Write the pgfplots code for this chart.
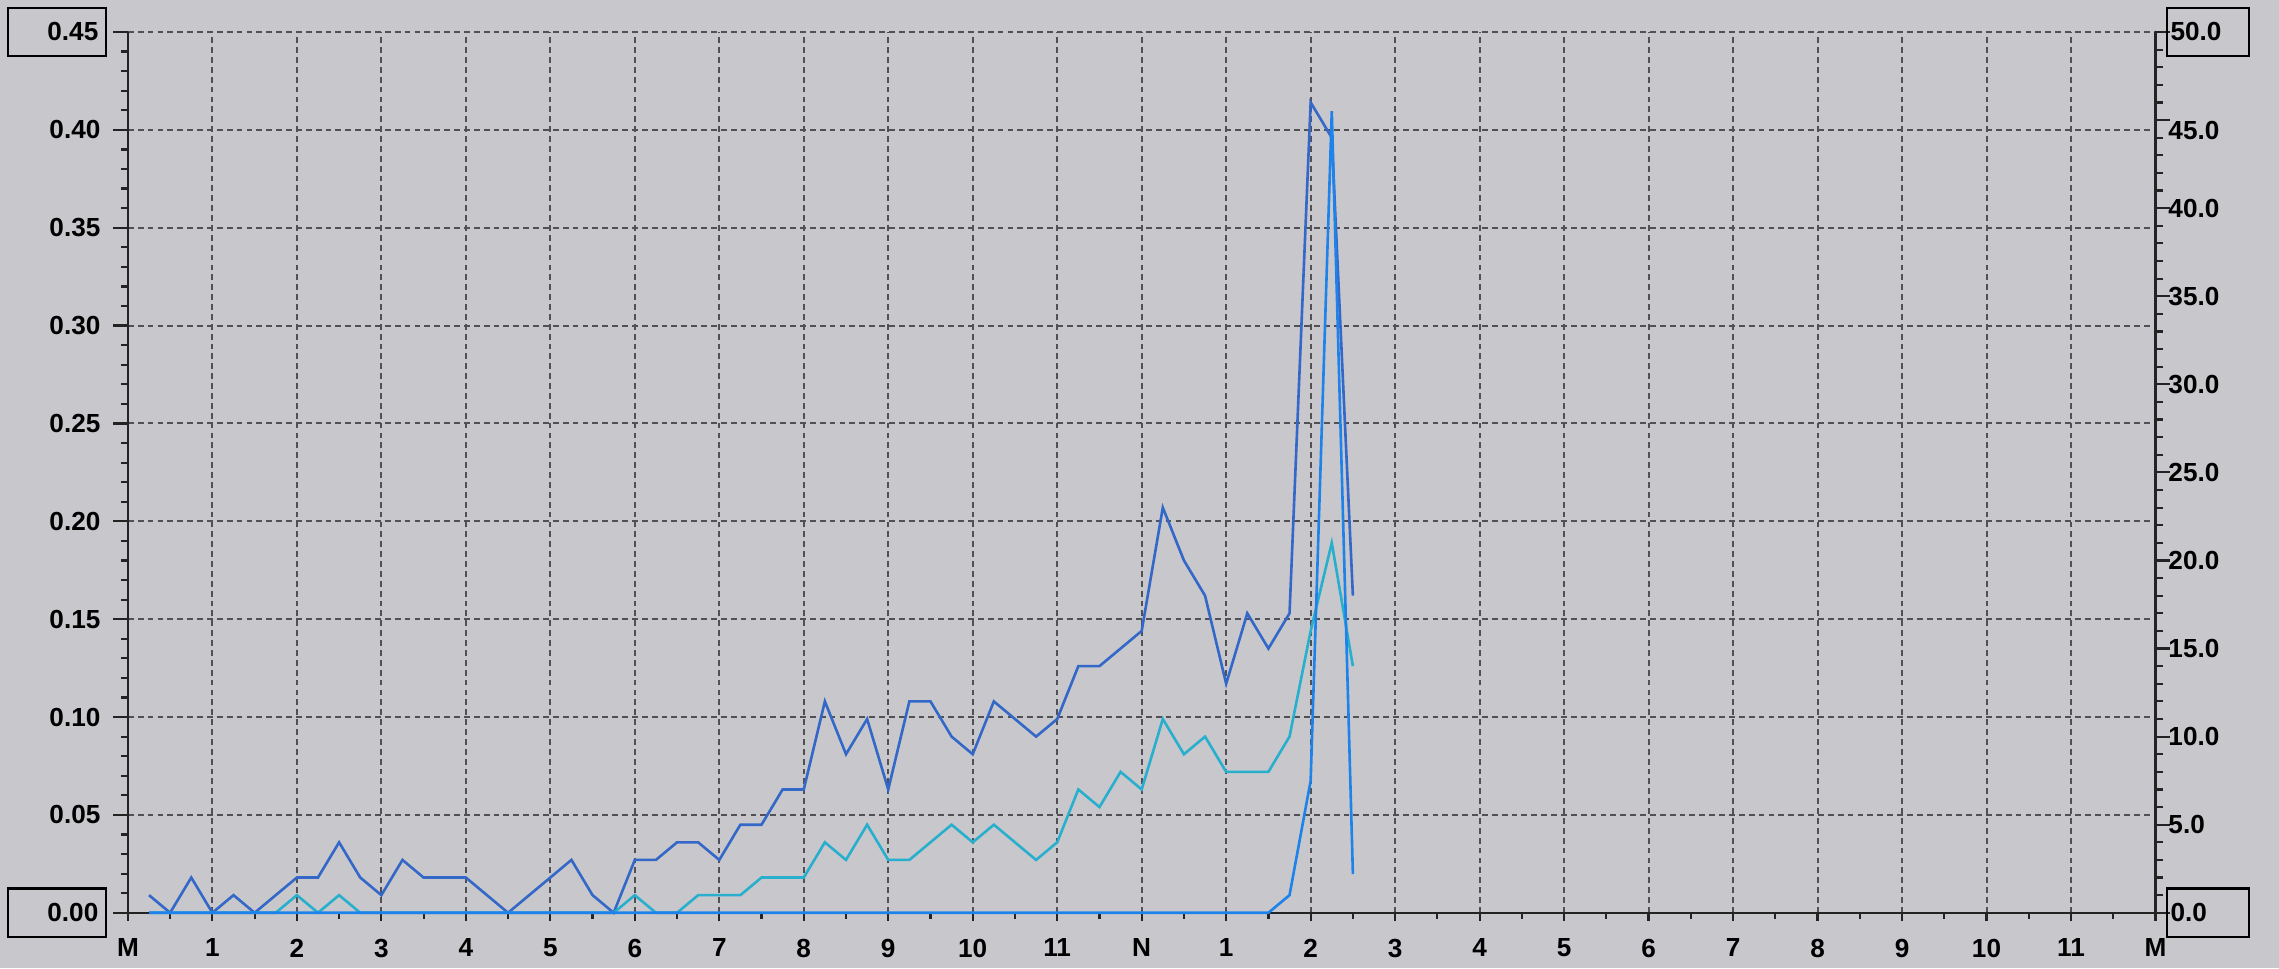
\documentclass[border=0pt]{standalone}
\usepackage{fontspec}
\setmainfont{Liberation Sans}
\usepackage{pgfplots}
\usepackage{pgfplotstable}
\pgfplotsset{compat=1.18}

\definecolor{bg}{RGB}{200,200,204}
\definecolor{gridc}{RGB}{80,80,85}
\definecolor{axc}{RGB}{35,35,35}
\definecolor{dblue}{RGB}{52,104,200}
\definecolor{cyanl}{RGB}{40,175,205}
\definecolor{mblue}{RGB}{30,130,235}

\newcommand{\lbox}[1]{{\setlength{\fboxsep}{0pt}\setlength{\fboxrule}{0.7pt}\fbox{\rule[-5pt]{0pt}{16pt}\makebox[33pt][r]{#1\kern2.3pt}}}\kern-2.3pt}
\newcommand{\rbox}[1]{\kern-0.7pt{\setlength{\fboxsep}{0pt}\setlength{\fboxrule}{0.7pt}\fbox{\rule[-5pt]{0pt}{16pt}\makebox[27.5pt][l]{\kern0.7pt#1}}}}

\pgfplotstableread{
h d c m
0.25 0.009 0 0
0.5 0 0 0
0.75 0.018 0 0
1 0 0 0
1.25 0.009 0 0
1.5 0 0 0
1.75 0.009 0 0
2 0.018 0.009 0
2.25 0.018 0 0
2.5 0.036 0.009 0
2.75 0.018 0 0
3 0.009 0 0
3.25 0.027 0 0
3.5 0.018 0 0
3.75 0.018 0 0
4 0.018 0 0
4.25 0.009 0 0
4.5 0 0 0
4.75 0.009 0 0
5 0.018 0 0
5.25 0.027 0 0
5.5 0.009 0 0
5.75 0 0 0
6 0.027 0.009 0
6.25 0.027 0 0
6.5 0.036 0 0
6.75 0.036 0.009 0
7 0.027 0.009 0
7.25 0.045 0.009 0
7.5 0.045 0.018 0
7.75 0.063 0.018 0
8 0.063 0.018 0
8.25 0.108 0.036 0
8.5 0.081 0.027 0
8.75 0.099 0.045 0
9 0.063 0.027 0
9.25 0.108 0.027 0
9.5 0.108 0.036 0
9.75 0.090 0.045 0
10 0.081 0.036 0
10.25 0.108 0.045 0
10.5 0.099 0.036 0
10.75 0.090 0.027 0
11 0.099 0.036 0
11.25 0.126 0.063 0
11.5 0.126 0.054 0
11.75 0.135 0.072 0
12 0.144 0.063 0
12.25 0.207 0.099 0
12.5 0.180 0.081 0
12.75 0.162 0.090 0
13 0.117 0.072 0
13.25 0.153 0.072 0
13.5 0.135 0.072 0
13.75 0.153 0.090 1.0
14 0.414 0.144 7.5
14.25 0.396 0.189 45.5
14.5 0.162 0.126 2.2
}\data

\begin{document}
\begin{tikzpicture}
\fill[bg] (0,0) rectangle (784pt,333pt);
\useasboundingbox (0,0) rectangle (784pt,333pt);
\begin{axis}[
  at={(44pt,19pt)}, anchor=south west,
  scale only axis, width=697.5pt, height=303pt,
  xmin=0, xmax=24, ymin=0, ymax=0.45,
  clip=false,
  axis y line*=left, axis x line*=bottom,
  axis line style={axc, line width=0.75pt, -},
  xtick={0,...,24},
  xticklabels={M,1,2,3,4,5,6,7,8,9,10,11,N,1,2,3,4,5,6,7,8,9,10,11,M},
  minor x tick num=1,
  ytick={0,0.05,0.1,0.15,0.2,0.25,0.3,0.35,0.4,0.45},
  yticklabels={\lbox{0.00},0.05,0.10,0.15,0.20,0.25,0.30,0.35,0.40,\lbox{0.45}},
  minor y tick num=4,
  tick align=outside,
  grid=major,
  major grid style={gridc, line width=0.7pt, dash pattern=on 2pt off 1.4pt},
  xtick style={axc, line width=0.75pt, /pgfplots/major tick length=2.75pt, /pgfplots/minor tick length=2pt},
  ytick style={axc, line width=0.75pt, /pgfplots/major tick length=5pt, /pgfplots/minor tick length=2.3pt},
  tick label style={font=\bfseries\fontsize{9}{9}\selectfont, text=black},
  yticklabel style={anchor=east, inner sep=0pt, xshift=-5pt},
  xticklabel style={anchor=north, inner sep=0pt, yshift=-4.5pt},
]
\addplot[dblue, line width=0.9pt] table[x=h, y=d] {\data};
\addplot[cyanl, line width=0.9pt] table[x=h, y=c] {\data};
\end{axis}
\begin{axis}[
  at={(44pt,19pt)}, anchor=south west,
  scale only axis, width=697.5pt, height=303pt,
  xmin=0, xmax=24, ymin=0, ymax=50,
  clip=false,
  axis y line*=right, axis x line=none,
  axis line style={axc, line width=0.75pt, -},
  ytick={0,5,10,15,20,25,30,35,40,45,50},
  yticklabels={\rbox{0.0},5.0,10.0,15.0,20.0,25.0,30.0,35.0,40.0,\raisebox{-3.5pt}[6.5pt][0pt]{45.0},\rbox{50.0}},
  minor y tick num=4,
  tick align=outside,
  ytick style={axc, line width=0.75pt, /pgfplots/major tick length=5pt, /pgfplots/minor tick length=2.6pt},
  tick label style={font=\bfseries\fontsize{9}{9}\selectfont, text=black},
  yticklabel style={anchor=west, inner sep=0pt},
]
\addplot[mblue, line width=0.9pt] table[x=h, y=m] {\data};
\end{axis}
\end{tikzpicture}
\end{document}
